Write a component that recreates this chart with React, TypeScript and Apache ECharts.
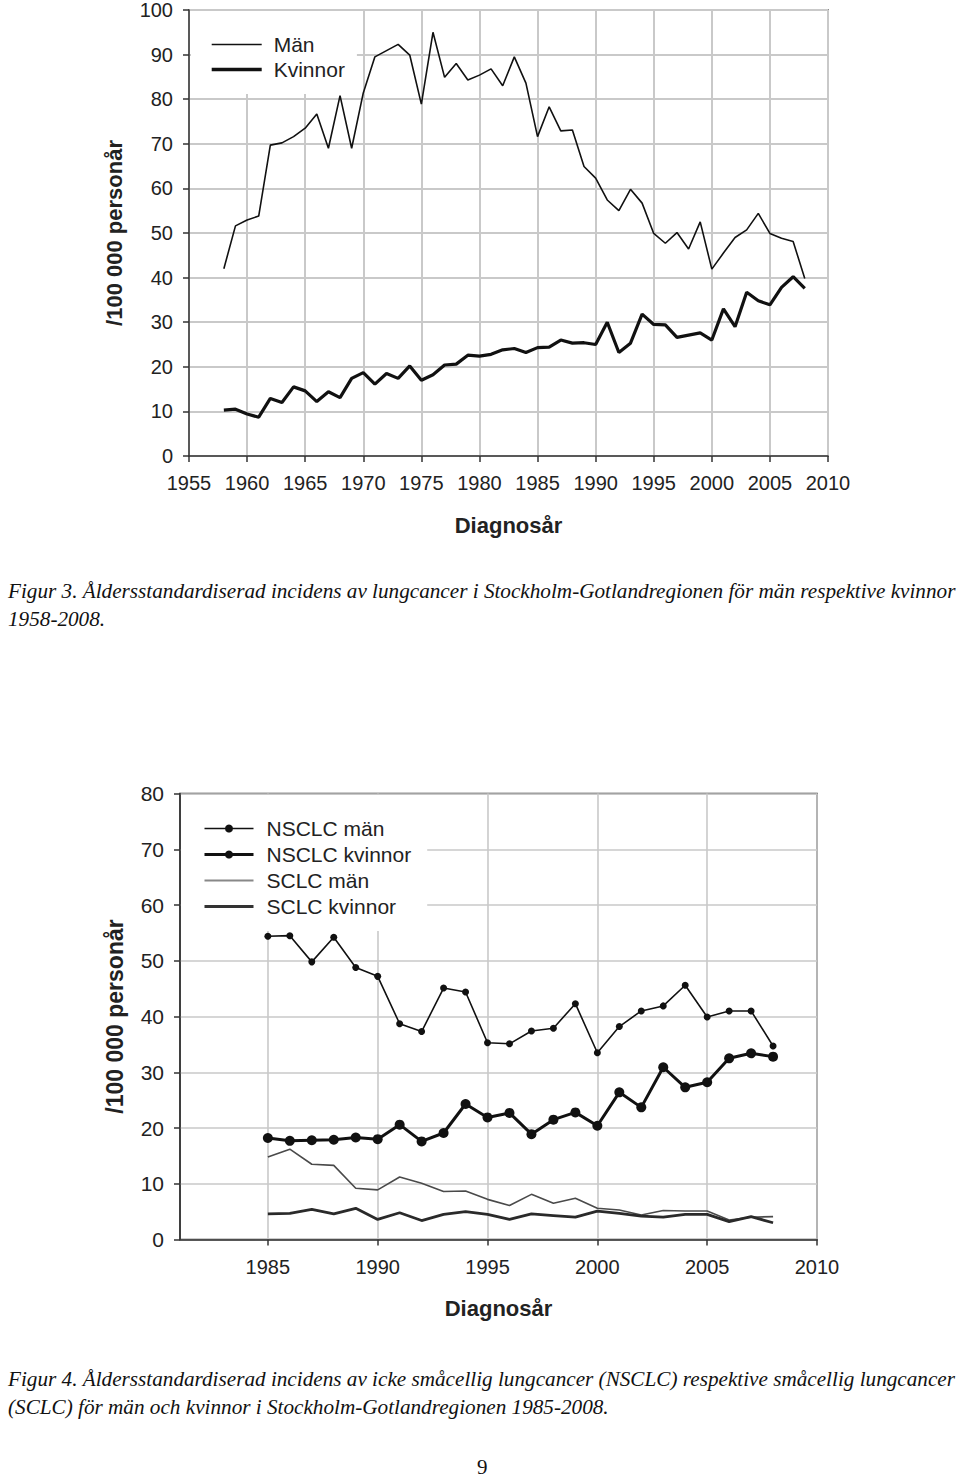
import React, { useEffect, useRef } from "react";
import * as echarts from "echarts";

// ---------- Figure 3 data ----------
const years1 = [
  1958, 1959, 1960, 1961, 1962, 1963, 1964, 1965, 1966, 1967, 1968, 1969, 1970,
  1971, 1972, 1973, 1974, 1975, 1976, 1977, 1978, 1979, 1980, 1981, 1982, 1983,
  1984, 1985, 1986, 1987, 1988, 1989, 1990, 1991, 1992, 1993, 1994, 1995, 1996,
  1997, 1998, 1999, 2000, 2001, 2002, 2003, 2004, 2005, 2006, 2007, 2008,
];
const man = [
  42, 51.6, 52.9, 53.8, 69.7, 70.2, 71.6, 73.5, 76.7, 69, 80.8, 69, 81.4,
  89.5, 90.9, 92.3, 89.9, 78.9, 95, 84.9, 88, 84.3, 85.4, 86.8, 83, 89.5,
  83.6, 71.6, 78.3, 72.9, 73.1, 64.9, 62.3, 57.4, 55, 59.8, 56.7, 49.9, 47.7,
  50.1, 46.4, 52.5, 41.9, 45.5, 49, 50.7, 54.4, 49.9, 48.8, 48.1, 39.8,
];
const kvinnor = [
  10.3, 10.5, 9.4, 8.7, 12.9, 12, 15.5, 14.6, 12.2, 14.4, 13.1, 17.4, 18.7,
  16.1, 18.5, 17.4, 20.2, 17, 18.2, 20.4, 20.6, 22.6, 22.4, 22.8, 23.8, 24.1,
  23.2, 24.3, 24.4, 26, 25.3, 25.4, 25, 30, 23.2, 25.3, 31.8, 29.5, 29.4,
  26.6, 27.1, 27.6, 26, 33, 29, 36.7, 34.8, 33.9, 37.8, 40.2, 37.6,
];

// ---------- Figure 4 data ----------
const years2 = [
  1985, 1986, 1987, 1988, 1989, 1990, 1991, 1992, 1993, 1994, 1995, 1996,
  1997, 1998, 1999, 2000, 2001, 2002, 2003, 2004, 2005, 2006, 2007, 2008,
];
const nsclcMan = [
  54.4, 54.5, 49.8, 54.2, 48.8, 47.2, 38.7, 37.3, 45.1, 44.4, 35.3, 35.1,
  37.4, 37.9, 42.3, 33.5, 38.2, 41, 41.9, 45.6, 39.9, 41, 41, 34.7,
];
const nsclcKvinnor = [
  18.2, 17.7, 17.8, 17.9, 18.3, 18, 20.6, 17.6, 19.1, 24.3, 21.9, 22.7,
  18.9, 21.5, 22.8, 20.4, 26.4, 23.7, 30.9, 27.3, 28.2, 32.5, 33.4, 32.8,
];
const sclcMan = [
  14.8, 16.2, 13.5, 13.3, 9.2, 8.9, 11.2, 10.1, 8.6, 8.7, 7.2, 6.1,
  8.1, 6.5, 7.4, 5.6, 5.3, 4.4, 5.2, 5.1, 5.1, 3.5, 4.0, 4.1,
];
const sclcKvinnor = [
  4.6, 4.7, 5.4, 4.6, 5.6, 3.6, 4.8, 3.4, 4.5, 5.0, 4.5, 3.6,
  4.6, 4.3, 4.0, 5.1, 4.7, 4.2, 4.0, 4.5, 4.5, 3.2, 4.1, 3.0,
];
const xTicks2 = [1985, 1990, 1995, 2000, 2005, 2010];

const caption3 = [
  "Figur 3. Åldersstandardiserad incidens av lungcancer i Stockholm-Gotlandregionen för män respektive kvinnor",
  "1958-2008.",
];
const caption4 = [
  "Figur 4. Åldersstandardiserad incidens av icke småcellig lungcancer (NSCLC) respektive småcellig lungcancer",
  "(SCLC) för män och kvinnor i Stockholm-Gotlandregionen 1985-2008.",
];

const SANS = "'Liberation Sans', Arial, sans-serif";
const SERIF = "'Liberation Serif', 'Times New Roman', serif";
const AX = "#333";
const GRIDC = "#c9c9c9";

const zip = (xs: number[], ys: number[]) => xs.map((x, i) => [x, ys[i]]);

export default function App() {
  const ref = useRef<HTMLDivElement>(null);
  useEffect(() => {
    if (!ref.current) return;
    const chart = echarts.init(ref.current, undefined, { renderer: "svg" });

    const labelStyle = { fontSize: 20, fontFamily: SANS, color: "#222" };
    const nameStyle = { fontSize: 22, fontWeight: "bold" as const, fontFamily: SANS, color: "#222" };
    const hideSym = { opacity: 0 };

    const option: any = {
      animation: false,
      backgroundColor: "#fff",
      grid: [
        { left: 189, top: 10, width: 639, height: 446, show: true, borderColor: AX, borderWidth: 1.5 },
        { left: 180, top: 793.5, width: 637, height: 446, show: true, borderColor: AX, borderWidth: 1.5 },
      ],
      xAxis: [
        {
          type: "value", gridIndex: 0, min: 1955, max: 2010, interval: 5,
          name: "Diagnosår", nameLocation: "middle", nameGap: 58, nameTextStyle: nameStyle,
          axisLine: { show: true, onZero: false, lineStyle: { color: AX, width: 1.5 } },
          axisTick: { show: true, inside: false, length: 6, lineStyle: { color: AX, width: 1.5 } },
          axisLabel: { ...labelStyle, margin: 17, formatter: (v: number) => String(v) },
          splitLine: { show: true, lineStyle: { color: GRIDC, width: 2 } },
        },
        {
          type: "value", gridIndex: 1, min: 1981, max: 2010,
          name: "Diagnosår", nameLocation: "middle", nameGap: 58, nameTextStyle: nameStyle,
          axisLine: { show: true, onZero: false, lineStyle: { color: AX, width: 1.5 } },
          axisTick: { show: true, inside: false, length: 6, customValues: xTicks2, lineStyle: { color: AX, width: 1.5 } },
          axisLabel: { ...labelStyle, margin: 17, customValues: xTicks2, formatter: (v: number) => String(v) },
          splitLine: { show: true, lineStyle: { color: GRIDC, width: 1.6 } },
        },
      ],
      yAxis: [
        {
          type: "value", gridIndex: 0, min: 0, max: 100, interval: 10,
          name: "/100 000 personår", nameLocation: "middle", nameGap: 64, nameTextStyle: nameStyle,
          axisLine: { show: true, lineStyle: { color: AX, width: 1.5 } },
          axisTick: { show: true, inside: false, length: 6, lineStyle: { color: AX, width: 1.5 } },
          axisLabel: { ...labelStyle, margin: 16 },
          splitLine: { show: true, lineStyle: { color: GRIDC, width: 2 } },
        },
        {
          type: "value", gridIndex: 1, min: 0, max: 80, interval: 10,
          name: "/100 000 personår", nameLocation: "middle", nameGap: 54, nameTextStyle: { ...nameStyle, fontSize: 23 },
          axisLine: { show: true, lineStyle: { color: AX, width: 1.5 } },
          axisTick: { show: true, inside: false, length: 6, lineStyle: { color: AX, width: 1.5 } },
          axisLabel: { ...labelStyle, fontSize: 21, margin: 16 },
          splitLine: { show: true, lineStyle: { color: GRIDC, width: 1.6 } },
        },
      ],
      legend: [
        {
          data: [
            { name: "Män", itemStyle: hideSym, lineStyle: { color: "#111", width: 1.6 } },
            { name: "Kvinnor", itemStyle: hideSym, lineStyle: { color: "#111", width: 3.4 } },
          ],
          orient: "vertical", left: 191, top: 11,
          backgroundColor: "#fff", padding: [23, 12, 14, 19],
          itemWidth: 50, itemHeight: 14, itemGap: 4,
          textStyle: { fontSize: 21, fontFamily: SANS, color: "#222", lineHeight: 21, padding: [0, 0, 0, 7] },
        },
        {
          data: [
            { name: "NSCLC män", lineStyle: { color: "#111", width: 1.6 } },
            { name: "NSCLC kvinnor", lineStyle: { color: "#111", width: 3 } },
            { name: "SCLC män", itemStyle: hideSym, lineStyle: { color: "#888", width: 2 } },
            { name: "SCLC kvinnor", itemStyle: hideSym, lineStyle: { color: "#333", width: 3 } },
          ],
          orient: "vertical",
          left: 181, top: 795, backgroundColor: "#fff", padding: [23, 16, 14, 22],
          itemWidth: 49, itemHeight: 10, itemGap: 5,
          textStyle: { fontSize: 21, fontFamily: SANS, color: "#222", lineHeight: 21, padding: [0, 0, 0, 8] },
        },
      ],
      series: [
        {
          name: "Män", type: "line", xAxisIndex: 0, yAxisIndex: 0, data: zip(years1, man),
          symbol: "none", color: "#111", lineStyle: { color: "#111", width: 1.6 },
        },
        {
          name: "Kvinnor", type: "line", xAxisIndex: 0, yAxisIndex: 0, data: zip(years1, kvinnor),
          symbol: "none", color: "#111", lineStyle: { color: "#111", width: 3.2 },
        },
        {
          name: "SCLC män", type: "line", xAxisIndex: 1, yAxisIndex: 1, data: zip(years2, sclcMan),
          symbol: "none", color: "#4a4a4a", lineStyle: { color: "#4a4a4a", width: 1.6 },
        },
        {
          name: "SCLC kvinnor", type: "line", xAxisIndex: 1, yAxisIndex: 1, data: zip(years2, sclcKvinnor),
          symbol: "none", color: "#2a2a2a", lineStyle: { color: "#2a2a2a", width: 2.8 },
        },
        {
          name: "NSCLC män", type: "line", xAxisIndex: 1, yAxisIndex: 1, data: zip(years2, nsclcMan),
          symbol: "circle", symbolSize: 7, color: "#111", itemStyle: { color: "#111" },
          lineStyle: { color: "#111", width: 1.6 },
        },
        {
          name: "NSCLC kvinnor", type: "line", xAxisIndex: 1, yAxisIndex: 1, data: zip(years2, nsclcKvinnor),
          symbol: "circle", symbolSize: 10, color: "#111", itemStyle: { color: "#111" },
          lineStyle: { color: "#111", width: 3 },
        },
      ],
      graphic: [
        ...caption3.map((t, i) => ({
          type: "text", left: 8, top: 580 + i * 28.5,
          style: { text: t, fontSize: 21.2, fontStyle: "italic", fontFamily: SERIF, fill: "#111" },
        })),
        ...caption4.map((t, i) => ({
          type: "text", left: 8, top: 1368 + i * 28.5,
          style: { text: t, fontSize: 21.2, fontStyle: "italic", fontFamily: SERIF, fill: "#111" },
        })),
        {
          type: "text", left: 477, top: 1456,
          style: { text: "9", fontSize: 21, fontFamily: SERIF, fill: "#111" },
        },
      ],
    };
    chart.setOption(option);
    return () => chart.dispose();
  }, []);
  return (
    <div
      ref={ref}
      style={{ position: "absolute", left: 0, top: 0, width: 960, height: 1479 }}
    />
  );
}
